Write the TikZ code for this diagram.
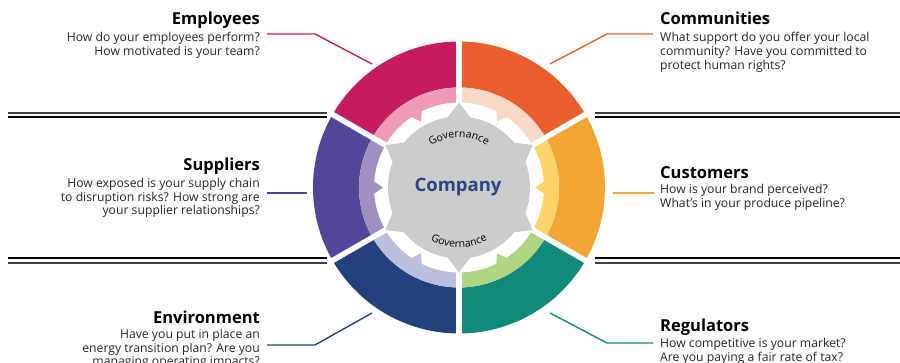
\documentclass[tikz,border=0pt]{standalone}
\usepackage{fontspec}
\setmainfont{Open Sans}
\usetikzlibrary{decorations.text}
\definecolor{empD}{HTML}{C61B60}\definecolor{empL}{HTML}{EE9BB6}
\definecolor{comD}{HTML}{EB5E2E}\definecolor{comL}{HTML}{F9D9C7}
\definecolor{cusD}{HTML}{F1A635}\definecolor{cusL}{HTML}{FDD46B}
\definecolor{regD}{HTML}{128A79}\definecolor{regL}{HTML}{AED580}
\definecolor{envD}{HTML}{23417E}\definecolor{envL}{HTML}{BBBFDC}
\definecolor{supD}{HTML}{53459B}\definecolor{supL}{HTML}{9D91BF}
\definecolor{hubgrey}{HTML}{CCCCCC}
\definecolor{compblue}{HTML}{27487F}
\tikzset{
  ttl/.style={font=\fontsize{16.5}{18}\selectfont\bfseries, inner sep=0pt, text=black},
  bodyR/.style={font=\fontsize{12.2}{13.6}\selectfont, inner sep=0pt, align=right, anchor=north east, text=black!85},
  bodyL/.style={font=\fontsize{12.2}{13.6}\selectfont, inner sep=0pt, align=left, anchor=north west, text=black!85},
  conn/.style={line width=1.4pt},
  rule1/.style={line width=1.3pt, black!75},
  rule2/.style={line width=1.3pt, black},
}
\newcommand{\segment}[5]{% a1 a2 mid dark light
  \fill[#4] (#1:146) arc[start angle=#1,end angle=#2,radius=146] -- (#2:100) arc[start angle=#2,end angle=#1,radius=100] -- cycle;
  \fill[#5] (#1:100) arc[start angle=#1,end angle=#2,radius=100] -- (#2:85) arc[start angle=#2,end angle=#3+4,radius=85] -- (#3:76) -- (#3-4:85) arc[start angle=#3-4,end angle=#1,radius=85] -- cycle;
}
\begin{document}
\begin{tikzpicture}[x=1pt,y=1pt]
\useasboundingbox (0,0) rectangle (900,363);
% rules
\draw[rule1] (8,250) -- (327,250);
\draw[rule2] (8,246) -- (327,246);
\draw[rule1] (595,250) -- (900,250);
\draw[rule2] (595,246) -- (900,246);
\draw[rule2] (8,105) -- (327,105);
\draw[rule1] (8,100) -- (327,100);
\draw[rule2] (595,105) -- (900,105);
\draw[rule1] (595,100) -- (900,100);
% wheel
\begin{scope}[shift={(459,175.5)}]
  \segment{90}{150}{120}{empD}{empL}
  \segment{30}{90}{60}{comD}{comL}
  \segment{-30}{30}{0}{cusD}{cusL}
  \segment{-90}{-30}{-60}{regD}{regL}
  \segment{-150}{-90}{-120}{envD}{envL}
  \segment{150}{210}{180}{supD}{supL}
  \foreach \a in {30,90,...,330} \draw[white,line width=5.5pt] (0,0) -- (\a:150);
  \fill[hubgrey] (0,0) circle (71);
  \foreach \a in {30,90,...,330} \fill[hubgrey] (\a-10:70) -- (\a:85) -- (\a+10:70) -- cycle;
  \node[font=\fontsize{18.5}{20}\selectfont\bfseries, text=compblue] (company) at (-1,0) {Company};
  \path[decorate, decoration={text along path, text align=center, text={|\fontsize{10.5}{11}\selectfont|Governance}}] (140:50) arc[start angle=140,end angle=40,radius=50];
  \path[decorate, decoration={text along path, text align=center, text={|\fontsize{10.5}{11}\selectfont|Governance}}] (220:60) arc[start angle=220,end angle=320,radius=60];
\end{scope}
% texts left
\node[ttl, anchor=base east] (empT) at (260,338) {Employees};
\node[bodyR] (empB) at (260,330.7) {How do your employees perform?\\How motivated is your team?};
\node[ttl, anchor=base east] (supT) at (260,192.3) {Suppliers};
\node[bodyR] (supB) at (260,184.7) {How exposed is your supply chain\\to disruption risks? How strong are\\your supplier relationships?};
\node[ttl, anchor=base east] (envT) at (260,39) {Environment};
\node[bodyR] (envB) at (260,34) {Have you put in place an\\energy transition plan? Are you\\managing operating impacts?};
% texts right
\node[ttl, anchor=base west] (comT) at (660,338) {Communities};
\node[bodyL] (comB) at (660,330.7) {What support do you offer your local\\community? Have you committed to\\protect human rights?};
\node[ttl, anchor=base west] (cusT) at (660,184) {Customers};
\node[bodyL] (cusB) at (660,178.7) {How is your brand perceived?\\What’s in your produce pipeline?};
\node[ttl, anchor=base west] (regT) at (660,31.3) {Regulators};
\node[bodyL] (regB) at (660,24.7) {How competitive is your market?\\Are you paying a fair rate of tax?};
% connectors
\coordinate (empS) at (267,329); \coordinate (empK) at (315,329); \coordinate (empE) at (372,299);
\coordinate (comS) at (653,329); \coordinate (comK) at (607,329); \coordinate (comE) at (550,299);
\coordinate (supS) at (267,170); \coordinate (supE) at (307,170);
\coordinate (cusS) at (654,170); \coordinate (cusE) at (613,170);
\coordinate (envS) at (267,18); \coordinate (envK) at (315,18); \coordinate (envE) at (372,50);
\coordinate (regS) at (653,20); \coordinate (regK) at (607,20); \coordinate (regE) at (550,50);
\draw[conn, empD] (empS) -- (empK) -- (empE);
\draw[conn, comD] (comS) -- (comK) -- (comE);
\draw[conn, supD] (supS) -- (supE);
\draw[conn, cusD] (cusS) -- (cusE);
\draw[conn, envD] (envS) -- (envK) -- (envE);
\draw[conn, regD] (regS) -- (regK) -- (regE);
\end{tikzpicture}
\end{document}
